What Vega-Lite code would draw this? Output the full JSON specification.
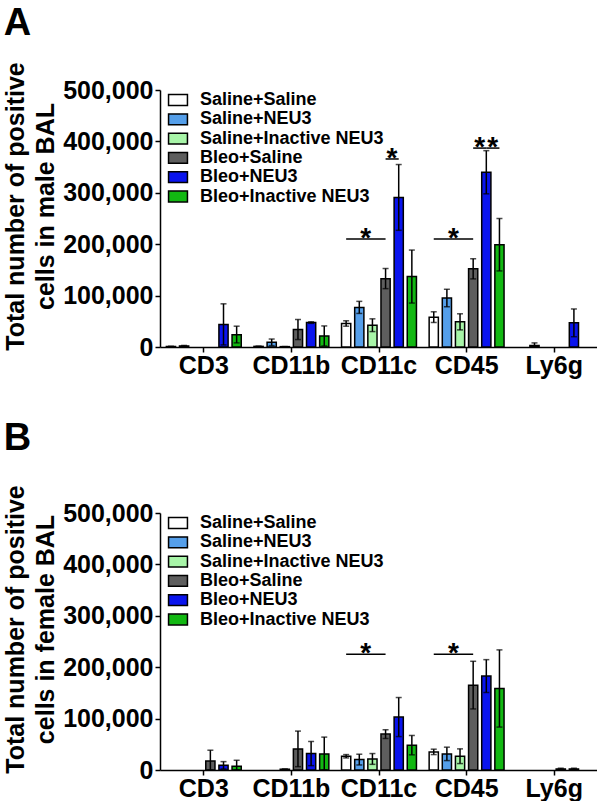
{
  "$schema": "https://vega.github.io/schema/vega-lite/v6.json",
  "padding": {"left": 3, "top": 4, "right": 0, "bottom": 0},
  "background": "white",
  "datasets": {
    "male": [
      {"marker": "CD3", "group": "Saline+Saline", "mean": 1000, "lo": 500, "hi": 1500},
      {"marker": "CD3", "group": "Saline+NEU3", "mean": 2000, "lo": 1000, "hi": 3000},
      {"marker": "CD3", "group": "Bleo+NEU3", "mean": 44000, "lo": 4000, "hi": 84000},
      {"marker": "CD3", "group": "Bleo+Inactive NEU3", "mean": 24000, "lo": 8000, "hi": 40500},
      {"marker": "CD11b", "group": "Saline+Saline", "mean": 1200, "lo": 800, "hi": 1600},
      {"marker": "CD11b", "group": "Saline+NEU3", "mean": 9000, "lo": 2600, "hi": 15500},
      {"marker": "CD11b", "group": "Saline+Inactive NEU3", "mean": 700, "lo": 500, "hi": 900},
      {"marker": "CD11b", "group": "Bleo+Saline", "mean": 34000, "lo": 14500, "hi": 53500},
      {"marker": "CD11b", "group": "Bleo+NEU3", "mean": 47500, "lo": 46000, "hi": 49000},
      {"marker": "CD11b", "group": "Bleo+Inactive NEU3", "mean": 21500, "lo": 2000, "hi": 41000},
      {"marker": "CD11c", "group": "Saline+Saline", "mean": 45700, "lo": 40500, "hi": 51000},
      {"marker": "CD11c", "group": "Saline+NEU3", "mean": 77000, "lo": 65300, "hi": 88800},
      {"marker": "CD11c", "group": "Saline+Inactive NEU3", "mean": 42400, "lo": 30000, "hi": 54800},
      {"marker": "CD11c", "group": "Bleo+Saline", "mean": 133000, "lo": 113500, "hi": 152700},
      {"marker": "CD11c", "group": "Bleo+NEU3", "mean": 291000, "lo": 227000, "hi": 355000},
      {"marker": "CD11c", "group": "Bleo+Inactive NEU3", "mean": 137000, "lo": 85500, "hi": 188600},
      {"marker": "CD45", "group": "Saline+Saline", "mean": 58000, "lo": 47700, "hi": 68500},
      {"marker": "CD45", "group": "Saline+NEU3", "mean": 95300, "lo": 78300, "hi": 112300},
      {"marker": "CD45", "group": "Saline+Inactive NEU3", "mean": 49000, "lo": 33300, "hi": 64600},
      {"marker": "CD45", "group": "Bleo+Saline", "mean": 152000, "lo": 132500, "hi": 171700},
      {"marker": "CD45", "group": "Bleo+NEU3", "mean": 340000, "lo": 298000, "hi": 382000},
      {"marker": "CD45", "group": "Bleo+Inactive NEU3", "mean": 199000, "lo": 148000, "hi": 250000},
      {"marker": "Ly6g", "group": "Saline+NEU3", "mean": 3000, "lo": 0, "hi": 8000},
      {"marker": "Ly6g", "group": "Bleo+NEU3", "mean": 47000, "lo": 20000, "hi": 74000}
    ],
    "female": [
      {"marker": "CD3", "group": "Bleo+Saline", "mean": 17600, "lo": 0, "hi": 38500},
      {"marker": "CD3", "group": "Bleo+NEU3", "mean": 9100, "lo": 2000, "hi": 16300},
      {"marker": "CD3", "group": "Bleo+Inactive NEU3", "mean": 7200, "lo": 0, "hi": 18900},
      {"marker": "CD11b", "group": "Saline+Inactive NEU3", "mean": 1500, "lo": 1000, "hi": 2000},
      {"marker": "CD11b", "group": "Bleo+Saline", "mean": 41000, "lo": 6500, "hi": 75700},
      {"marker": "CD11b", "group": "Bleo+NEU3", "mean": 32000, "lo": 8500, "hi": 55500},
      {"marker": "CD11b", "group": "Bleo+Inactive NEU3", "mean": 31300, "lo": 0, "hi": 64000},
      {"marker": "CD11c", "group": "Saline+Saline", "mean": 26800, "lo": 23500, "hi": 30000},
      {"marker": "CD11c", "group": "Saline+NEU3", "mean": 20200, "lo": 9800, "hi": 30700},
      {"marker": "CD11c", "group": "Saline+Inactive NEU3", "mean": 21500, "lo": 11000, "hi": 32000},
      {"marker": "CD11c", "group": "Bleo+Saline", "mean": 69800, "lo": 61300, "hi": 78300},
      {"marker": "CD11c", "group": "Bleo+NEU3", "mean": 103000, "lo": 65000, "hi": 141000},
      {"marker": "CD11c", "group": "Bleo+Inactive NEU3", "mean": 48300, "lo": 29500, "hi": 67200},
      {"marker": "CD45", "group": "Saline+Saline", "mean": 35200, "lo": 30000, "hi": 40500},
      {"marker": "CD45", "group": "Saline+NEU3", "mean": 31300, "lo": 18300, "hi": 44400},
      {"marker": "CD45", "group": "Saline+Inactive NEU3", "mean": 26800, "lo": 12500, "hi": 41100},
      {"marker": "CD45", "group": "Bleo+Saline", "mean": 165000, "lo": 118800, "hi": 211500},
      {"marker": "CD45", "group": "Bleo+NEU3", "mean": 182800, "lo": 150800, "hi": 214700},
      {"marker": "CD45", "group": "Bleo+Inactive NEU3", "mean": 158600, "lo": 83500, "hi": 233700},
      {"marker": "Ly6g", "group": "Bleo+Saline", "mean": 2000, "lo": 1000, "hi": 3500},
      {"marker": "Ly6g", "group": "Bleo+NEU3", "mean": 2000, "lo": 1000, "hi": 3500}
    ],
    "male_sig": [
      {"a": "c1", "marker": "CD11c", "group": "Saline+Saline", "value": 210100},
      {"a": "c1", "marker": "CD11c", "group": "Bleo+Saline", "value": 210100},
      {"a": "c2", "marker": "CD11c", "group": "Bleo+Saline", "value": 365800},
      {"a": "c2", "marker": "CD11c", "group": "Bleo+NEU3", "value": 365800},
      {"a": "d1", "marker": "CD45", "group": "Saline+Saline", "value": 210100},
      {"a": "d1", "marker": "CD45", "group": "Bleo+Saline", "value": 210100}
    ],
    "male_sig_left": [
      {"a": "d2", "marker": "CD45", "group": "Bleo+Saline", "value": 387000},
      {"a": "d2", "marker": "CD45", "group": "Bleo+NEU3", "value": 387000}
    ],
    "male_sig_right": [
      {"a": "d3", "marker": "CD45", "group": "Bleo+NEU3", "value": 387000},
      {"a": "d3", "marker": "CD45", "group": "Bleo+Inactive NEU3", "value": 387000}
    ],
    "male_star": [
      {"marker": "CD11c", "group": "Saline+NEU3", "value": 210100},
      {"marker": "CD11c", "group": "Bleo+Saline", "value": 365800},
      {"marker": "CD45", "group": "Saline+NEU3", "value": 210100},
      {"marker": "CD45", "group": "Bleo+Saline", "value": 387000},
      {"marker": "CD45", "group": "Bleo+NEU3", "value": 387000}
    ],
    "female_sig": [
      {"a": "c1", "marker": "CD11c", "group": "Saline+Saline", "value": 225000},
      {"a": "c1", "marker": "CD11c", "group": "Bleo+Saline", "value": 225000},
      {"a": "d1", "marker": "CD45", "group": "Saline+Saline", "value": 225000},
      {"a": "d1", "marker": "CD45", "group": "Bleo+Saline", "value": 225000}
    ],
    "female_star": [
      {"marker": "CD11c", "group": "Saline+NEU3", "value": 225000},
      {"marker": "CD45", "group": "Saline+NEU3", "value": 225000}
    ]
  },
  "spacing": 41,
  "resolve": {"scale": {"color": "independent"}},
  "vconcat": [
    {
      "width": 438,
      "height": 257,
      "title": {"text": "A", "anchor": "start", "frame": "bounds", "fontSize": 38, "fontWeight": "bold", "color": "black", "offset": 19},
      "encoding": {
        "x": {"field": "marker", "type": "nominal", "sort": ["CD3", "CD11b", "CD11c", "CD45", "Ly6g"], "scale": {"domain": ["CD3", "CD11b", "CD11c", "CD45", "Ly6g"], "paddingInner": 0.1, "paddingOuter": 0.05}, "axis": {"title": null, "labelAngle": 0, "bandPosition": 0.5, "labelPadding": 1}},
        "xOffset": {"field": "group", "type": "nominal", "scale": {"domain": ["Saline+Saline", "Saline+NEU3", "Saline+Inactive NEU3", "Bleo+Saline", "Bleo+NEU3", "Bleo+Inactive NEU3"], "paddingInner": 0.3, "paddingOuter": 0.15}}
      },
      "layer": [
        {
          "data": {"name": "male"},
          "mark": {"type": "bar", "stroke": "black", "strokeWidth": 1.5},
          "encoding": {
            "y": {"field": "mean", "type": "quantitative", "title": ["Total number of positive", "cells in male BAL"], "scale": {"domain": [0, 500000], "nice": false}, "axis": {"values": [0, 100000, 200000, 300000, 400000, 500000], "format": ",d", "titleY": 116}},
            "color": {"field": "group", "type": "nominal", "scale": {"domain": ["Saline+Saline", "Saline+NEU3", "Saline+Inactive NEU3", "Bleo+Saline", "Bleo+NEU3", "Bleo+Inactive NEU3"], "range": ["#ffffff", "#559fea", "#a8f5a8", "#5e5e5e", "#0a14ee", "#12b812"]}, "legend": {"orient": "none", "legendX": 8, "legendY": 0, "title": null}}
          }
        },
        {
          "data": {"name": "male"},
          "mark": {"type": "rule", "color": "black", "strokeWidth": 1.5},
          "encoding": {
            "y": {"field": "lo", "type": "quantitative", "title": ["Total number of positive", "cells in male BAL"]},
            "y2": {"field": "hi"}
          }
        },
        {
          "data": {"name": "male"},
          "mark": {"type": "tick", "orient": "horizontal", "color": "black", "size": 6, "thickness": 1.5},
          "encoding": {
            "y": {"field": "hi", "type": "quantitative", "title": ["Total number of positive", "cells in male BAL"]}
          }
        },
        {
          "data": {"name": "male"},
          "mark": {"type": "tick", "orient": "horizontal", "color": "black", "size": 6, "thickness": 1.5},
          "encoding": {
            "y": {"field": "lo", "type": "quantitative", "title": ["Total number of positive", "cells in male BAL"]}
          }
        },
        {
          "data": {"name": "male_sig"},
          "mark": {"type": "line", "color": "black", "strokeWidth": 1.5, "strokeCap": "butt"},
          "encoding": {
            "y": {"field": "value", "type": "quantitative", "title": ["Total number of positive", "cells in male BAL"]},
            "detail": {"field": "a"}
          }
        },
        {
          "data": {"name": "male_sig_left"},
          "mark": {"type": "line", "color": "black", "strokeWidth": 1.5, "strokeCap": "butt", "xOffset": -1.5},
          "encoding": {
            "y": {"field": "value", "type": "quantitative", "title": ["Total number of positive", "cells in male BAL"]},
            "detail": {"field": "a"}
          }
        },
        {
          "data": {"name": "male_sig_right"},
          "mark": {"type": "line", "color": "black", "strokeWidth": 1.5, "strokeCap": "butt", "xOffset": 1.5},
          "encoding": {
            "y": {"field": "value", "type": "quantitative", "title": ["Total number of positive", "cells in male BAL"]},
            "detail": {"field": "a"}
          }
        },
        {
          "data": {"name": "male_star"},
          "mark": {"type": "text", "text": "*", "color": "black", "fontSize": 28, "fontWeight": "bold", "dx": 6.5, "dy": 8, "baseline": "alphabetic"},
          "encoding": {
            "y": {"field": "value", "type": "quantitative", "title": ["Total number of positive", "cells in male BAL"]}
          }
        }
      ]
    },
    {
      "width": 438,
      "height": 257,
      "title": {"text": "B", "anchor": "start", "frame": "bounds", "fontSize": 38, "fontWeight": "bold", "color": "black", "offset": 27},
      "encoding": {
        "x": {"field": "marker", "type": "nominal", "sort": ["CD3", "CD11b", "CD11c", "CD45", "Ly6g"], "scale": {"domain": ["CD3", "CD11b", "CD11c", "CD45", "Ly6g"], "paddingInner": 0.1, "paddingOuter": 0.05}, "axis": {"title": null, "labelAngle": 0, "bandPosition": 0.5, "labelPadding": 1}},
        "xOffset": {"field": "group", "type": "nominal", "scale": {"domain": ["Saline+Saline", "Saline+NEU3", "Saline+Inactive NEU3", "Bleo+Saline", "Bleo+NEU3", "Bleo+Inactive NEU3"], "paddingInner": 0.3, "paddingOuter": 0.15}}
      },
      "layer": [
        {
          "data": {"name": "female"},
          "mark": {"type": "bar", "stroke": "black", "strokeWidth": 1.5},
          "encoding": {
            "y": {"field": "mean", "type": "quantitative", "title": ["Total number of positive", "cells in female BAL"], "scale": {"domain": [0, 500000], "nice": false}, "axis": {"values": [0, 100000, 200000, 300000, 400000, 500000], "format": ",d", "titleY": 116}},
            "color": {"field": "group", "type": "nominal", "scale": {"domain": ["Saline+Saline", "Saline+NEU3", "Saline+Inactive NEU3", "Bleo+Saline", "Bleo+NEU3", "Bleo+Inactive NEU3"], "range": ["#ffffff", "#559fea", "#a8f5a8", "#5e5e5e", "#0a14ee", "#12b812"]}, "legend": {"orient": "none", "legendX": 8, "legendY": 0, "title": null}}
          }
        },
        {
          "data": {"name": "female"},
          "mark": {"type": "rule", "color": "black", "strokeWidth": 1.5},
          "encoding": {
            "y": {"field": "lo", "type": "quantitative", "title": ["Total number of positive", "cells in female BAL"]},
            "y2": {"field": "hi"}
          }
        },
        {
          "data": {"name": "female"},
          "mark": {"type": "tick", "orient": "horizontal", "color": "black", "size": 6, "thickness": 1.5},
          "encoding": {
            "y": {"field": "hi", "type": "quantitative", "title": ["Total number of positive", "cells in female BAL"]}
          }
        },
        {
          "data": {"name": "female"},
          "mark": {"type": "tick", "orient": "horizontal", "color": "black", "size": 6, "thickness": 1.5},
          "encoding": {
            "y": {"field": "lo", "type": "quantitative", "title": ["Total number of positive", "cells in female BAL"]}
          }
        },
        {
          "data": {"name": "female_sig"},
          "mark": {"type": "line", "color": "black", "strokeWidth": 1.5, "strokeCap": "butt"},
          "encoding": {
            "y": {"field": "value", "type": "quantitative", "title": ["Total number of positive", "cells in female BAL"]},
            "detail": {"field": "a"}
          }
        },
        {
          "data": {"name": "female_star"},
          "mark": {"type": "text", "text": "*", "color": "black", "fontSize": 28, "fontWeight": "bold", "dx": 6.5, "dy": 8, "baseline": "alphabetic"},
          "encoding": {
            "y": {"field": "value", "type": "quantitative", "title": ["Total number of positive", "cells in female BAL"]}
          }
        }
      ]
    }
  ],
  "config": {
    "font": "Liberation Sans",
    "view": {"stroke": null},
    "axis": {
      "domainColor": "black", "domainWidth": 1.5, "tickColor": "black", "tickWidth": 1.5, "tickSize": 5,
      "labelColor": "black", "labelFont": "Liberation Sans", "labelFontWeight": "bold", "labelFontSize": 25,
      "titleColor": "black", "titleFont": "Liberation Sans", "titleFontWeight": "bold", "titleFontSize": 25, "titleLineHeight": 30,
      "titlePadding": 4, "labelPadding": 2, "grid": false
    },
    "legend": {
      "labelFont": "Liberation Sans", "labelFontSize": 18, "labelFontWeight": "bold", "labelColor": "black",
      "symbolType": "M-1.05,-0.6H1.05V0.6H-1.05Z", "symbolSize": 324, "symbolStrokeColor": "black", "symbolStrokeWidth": 1.5,
      "symbolOpacity": 1, "labelOffset": 12, "rowPadding": 0.3, "padding": 0, "labelLimit": 400
    }
  }
}
